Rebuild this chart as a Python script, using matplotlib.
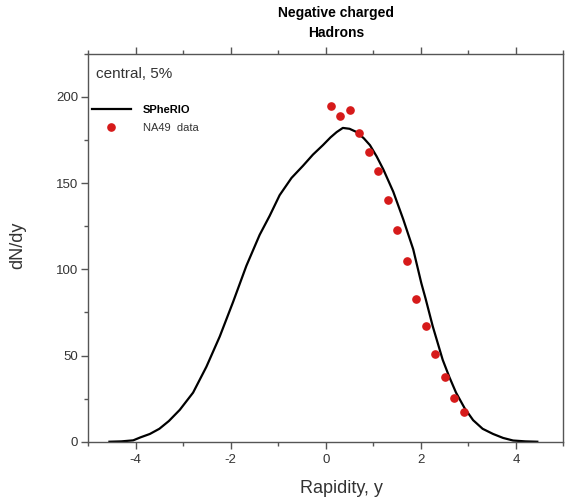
import matplotlib
matplotlib.use("Agg")
import matplotlib.pyplot as plt
from matplotlib.ticker import MultipleLocator

plt.rcParams['font.family'] = ['Liberation Sans', 'DejaVu Sans']
plt.rcParams['axes.unicode_minus'] = False

# SPheRIO curve
curve_y = [-4.55, -4.3, -4.05, -3.9, -3.7, -3.5, -3.3, -3.07, -2.79, -2.51,
           -2.23, -1.95, -1.67, -1.39, -1.18, -0.97, -0.72, -0.48, -0.27,
           -0.06, 0.1, 0.23, 0.36, 0.5, 0.65, 0.8, 0.93, 1.07, 1.21, 1.42,
           1.63, 1.84, 2.01, 2.1, 2.25, 2.46, 2.6, 2.74, 2.92, 3.1, 3.3, 3.52,
           3.73, 3.94, 4.2, 4.45]
curve_dndy = [0, 0.2, 0.8, 2.5, 4.5, 7.5, 12, 18.5, 28.5, 43.5,
              61, 81, 102, 120, 131, 143, 153, 160, 166.5,
              172, 176.5, 179.6, 182, 181.5, 179.6, 176, 172, 165.5, 158, 145,
              129, 111.6, 92, 83, 67, 47.5, 37.5, 28.5, 19.5, 12.5, 7.5, 4.5,
              2.2, 0.7, 0.2, 0]

# NA49 data points
na49_y = [0.1, 0.3, 0.5, 0.7, 0.9, 1.1, 1.3, 1.5, 1.7, 1.9, 2.1, 2.3, 2.5, 2.7, 2.9]
na49_dndy = [195, 189, 192.5, 179, 168, 157, 140, 123, 105, 83, 67, 51, 37.5, 25.5, 17]

fig = plt.figure(figsize=(5.68, 4.98), dpi=100)
ax = fig.add_axes([0.155, 0.113, 0.837, 0.779])

ax.plot(curve_y, curve_dndy, color='black', lw=1.6, label='SPheRIO')
ax.plot(na49_y, na49_dndy, 'o', color='#d61a1a', ms=5.2, mec='#d61a1a',
        label='NA49  data')

ax.set_xlim(-5, 5)
ax.set_ylim(0, 225)
ax.xaxis.set_major_locator(MultipleLocator(2))
ax.xaxis.set_minor_locator(MultipleLocator(1))
ax.yaxis.set_major_locator(MultipleLocator(50))
ax.yaxis.set_minor_locator(MultipleLocator(25))

for s in ax.spines.values():
    s.set_color('#555555')
    s.set_linewidth(1.0)

ax.tick_params(which='both', direction='out', colors='#555555',
               labelcolor='#333333', labelsize=9.5,
               top=True, right=False, labeltop=False)
ax.tick_params(which='major', length=5, width=1.0)
ax.tick_params(which='minor', length=3, width=1.0)
ax.tick_params(axis='y', pad=2)
ax.tick_params(axis='x', pad=4)

ax.text(0.017, 0.948, 'central, 5%', transform=ax.transAxes, fontsize=11,
        color='#333333', va='center')

leg = ax.legend(loc='upper left', bbox_to_anchor=(92 / 568, 1 - 105 / 498),
                bbox_transform=fig.transFigure, frameon=False, fontsize=8,
                handlelength=3.5, handletextpad=1.1, labelspacing=0.75,
                borderpad=0, borderaxespad=0, numpoints=1)
texts = leg.get_texts()
texts[0].set_fontweight('bold')
texts[1].set_color('#333333')

fig.text(336 / 568, 1 - 13 / 498, 'Negative charged', ha='center', va='center',
         fontsize=10, fontweight='bold')
fig.text(336 / 568, 1 - 33 / 498, 'Hadrons', ha='center', va='center',
         fontsize=10, fontweight='bold')

fig.text(341 / 568, 1 - 488 / 498, 'Rapidity, y', ha='center', va='center',
         fontsize=13, color='#333333')
fig.text(18 / 568, 1 - 245 / 498, 'dN/dy', ha='center', va='center',
         rotation=90, fontsize=13, color='#333333')

fig.savefig('out.png', dpi=100)
